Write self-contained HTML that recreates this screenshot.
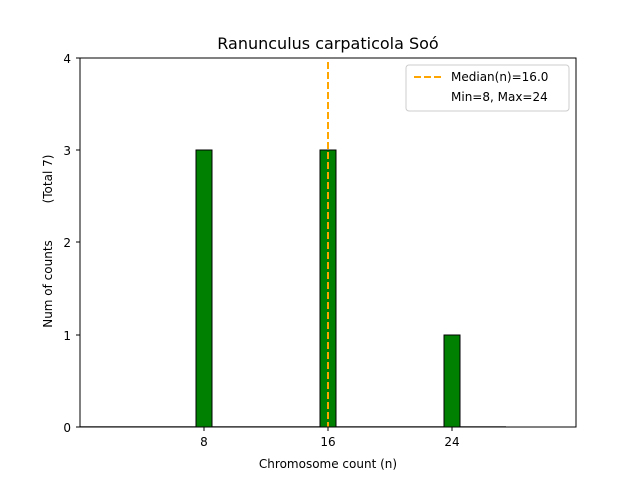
<!DOCTYPE html>
<html><head><style>body{margin:0;background:#fff}svg{display:block}text{font-family:"DejaVu Sans","Liberation Sans",sans-serif;fill:#000}</style></head>
<body>
<svg width="640" height="480" xmlns="http://www.w3.org/2000/svg">
<rect width="640" height="480" fill="#fff"/>
<text x="328" y="49" font-size="16" text-anchor="middle">Ranunculus carpaticola Soó</text>
<line x1="80" y1="426.5" x2="506" y2="426.5" stroke="#999" stroke-width="1"/>
<rect x="196" y="150" width="16" height="277" fill="#008000" stroke="#000" stroke-width="1"/>
<rect x="320" y="150" width="16" height="277" fill="#008000" stroke="#000" stroke-width="1"/>
<rect x="444" y="335" width="16" height="92" fill="#008000" stroke="#000" stroke-width="1"/>
<line x1="328" y1="62" x2="328" y2="427" stroke="#ffa500" stroke-width="2" stroke-dasharray="7,3"/>
<rect x="80" y="58" width="496" height="369" fill="none" stroke="#000" stroke-width="1"/>
<g stroke="#000">
<line x1="204" y1="427" x2="204" y2="431"/><line x1="328" y1="427" x2="328" y2="431"/><line x1="452" y1="427" x2="452" y2="431"/>
<line x1="76" y1="427" x2="80" y2="427"/><line x1="76" y1="335" x2="80" y2="335"/><line x1="76" y1="242" x2="80" y2="242"/><line x1="76" y1="150" x2="80" y2="150"/><line x1="76" y1="58" x2="80" y2="58"/>
</g>
<g font-size="12">
<text x="204" y="446" text-anchor="middle">8</text><text x="328" y="446" text-anchor="middle">16</text><text x="452" y="446" text-anchor="middle">24</text>
<text x="71" y="432" text-anchor="end">0</text><text x="71" y="340" text-anchor="end">1</text><text x="71" y="247" text-anchor="end">2</text><text x="71" y="155" text-anchor="end">3</text><text x="71" y="63" text-anchor="end">4</text>
<text x="328" y="468" text-anchor="middle">Chromosome count (n)</text>
<text transform="translate(52,284) rotate(-90)" text-anchor="middle">Num of counts</text>
<text transform="translate(52,179) rotate(-90)" text-anchor="middle">(Total 7)</text>
</g>
<rect x="406" y="65" width="163" height="46" rx="3" fill="#fff" fill-opacity="0.8" stroke="#ccc"/>
<line x1="414" y1="77" x2="442" y2="77" stroke="#ffa500" stroke-width="2" stroke-dasharray="7,3"/>
<text x="451" y="81" font-size="12">Median(n)=16.0</text>
<text x="451" y="101" font-size="12">Min=8, Max=24</text>
</svg>
</body></html>
